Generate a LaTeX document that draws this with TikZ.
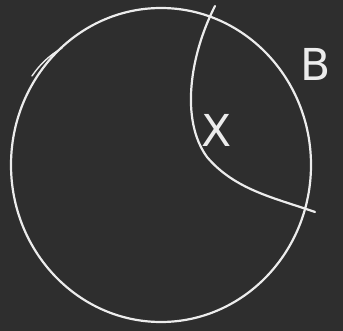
\documentclass[tikz,border=0pt]{standalone}
\usepackage{fontspec}
\setmainfont{DejaVu Sans}
\begin{document}
\begin{tikzpicture}[x=1pt,y=-1pt,
  chalk/.style={draw=white!85!gray, line width=2.2pt, line cap=round},
  lab/.style={text=white!85!gray, font=\fontsize{44}{44}\selectfont}]
\fill[fill=black!82] (0,0) rectangle (343,331);
\useasboundingbox (0,0) rectangle (343,331);
% big set
\draw[chalk] (161,165) ellipse [x radius=150, y radius=157];
\draw[chalk, line width=1.4pt] (32,76) .. controls (40,64) and (50,55) .. (62,48);
% inner region X
\coordinate (top) at (215,6);
\coordinate (bot) at (315,212);
\draw[chalk] (top) .. controls (190,55) and (180,120) .. (207,157)
  .. controls (235,190) and (275,198) .. (bot);
\node[lab] (X) at (217,130) {X};
\node[lab] (B) at (316,64) {B};
\end{tikzpicture}
\end{document}
